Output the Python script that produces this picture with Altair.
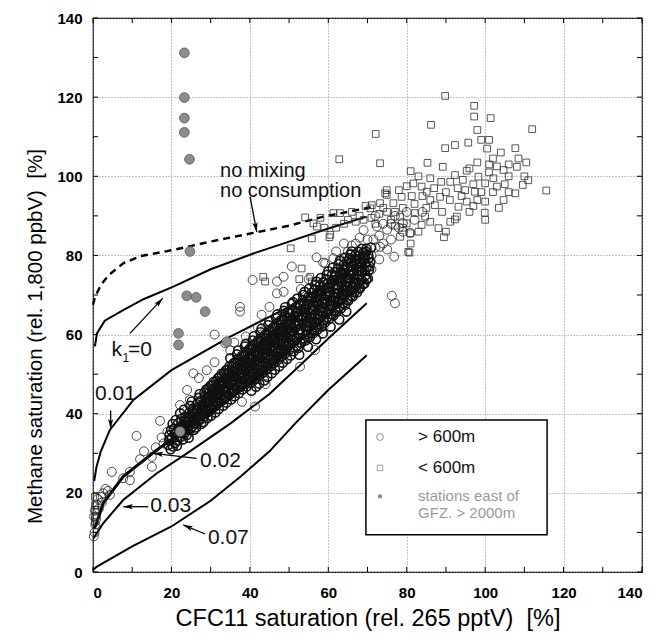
import math
import altair as alt
import pandas as pd

# ---------------- model curves ----------------
nomix_x = [0, 0.5, 2, 4, 7.7, 12, 20.5, 30, 40.9, 50, 58.7, 65, 71.5]
nomix_y = [67.5, 69.5, 72.5, 75, 78, 79.8, 81.4, 83.5, 85.7, 87.5, 89.8, 91, 92.3]
k0_x = [0.5, 1, 3, 7.7, 13, 20.5, 30, 40.9, 50, 60, 69.8]
k0_y = [57, 60.3, 63.5, 66.2, 69, 72.1, 76.5, 80.5, 83.5, 86.8, 89.8]
k001_x = [0.3, 0.9, 2, 4.3, 10.3, 20, 35, 50, 63, 70]
k001_y = [23, 26.6, 30.5, 35.9, 43.5, 51, 59.5, 67, 74.6, 78.5]
k002_x = [0.3, 0.9, 2.6, 7.7, 16.2, 24.7, 33.2, 42, 50, 60, 70]
k002_y = [11, 12.3, 17.4, 24.1, 30.8, 36.7, 42.5, 49, 56, 65, 74]
k003_x = [0.1, 2.6, 7.7, 16.2, 24.7, 35, 45, 52, 60, 69.8]
k003_y = [8.5, 12.3, 18.2, 24.9, 30.5, 37.5, 45, 51.5, 59, 67.9]
k007_x = [0, 0.9, 10, 20, 30, 37.5, 45, 52, 60, 69.8]
k007_y = [0.5, 1.3, 6.5, 11.5, 18, 24, 30.5, 38, 46, 54.8]

# ---------------- > 600m (open circles): dense band ----------------
core_pts = [
    [19.2, 32.1], [19.5, 34.6], [19.8, 31.0], [19.9, 35.8], [19.4, 33.3],
    [20.1, 33.9], [20.4, 31.7], [20.6, 36.2], [20.8, 34.8], [20.3, 37.4], [20.9, 32.6],
    [21.2, 35.1], [21.5, 33.2], [21.7, 37.6], [21.9, 35.9], [21.1, 38.4], [21.6, 34.3], [21.4, 31.9],
    [22.0, 36.3], [22.3, 34.1], [22.5, 38.7], [22.7, 36.9], [22.9, 33.5], [22.2, 40.1], [22.8, 35.4],
    [23.1, 37.2], [23.3, 35.0], [23.6, 39.3], [23.8, 37.8], [23.2, 41.0], [23.9, 34.6], [23.5, 36.4],
    [24.0, 38.1], [24.2, 35.8], [24.5, 40.2], [24.6, 37.1], [24.8, 42.0], [24.3, 39.0], [24.9, 36.2], [24.4, 33.9],
    [25.1, 39.2], [25.3, 36.8], [25.6, 41.3], [25.8, 38.4], [25.2, 43.1], [25.7, 35.9], [25.4, 40.5], [25.9, 37.5],
    [26.0, 40.2], [26.2, 37.6], [26.5, 42.4], [26.7, 39.1], [26.9, 44.0], [26.3, 36.5], [26.6, 41.0], [26.8, 38.3],
    [27.1, 41.1], [27.3, 38.5], [27.5, 43.3], [27.8, 40.2], [27.2, 45.0], [27.6, 37.4], [27.9, 42.1], [27.4, 39.7],
    [28.0, 42.0], [28.3, 39.3], [28.5, 44.4], [28.7, 41.2], [28.9, 46.1], [28.2, 37.9], [28.6, 43.0], [28.8, 40.1], [28.4, 45.3],
    [29.1, 42.9], [29.3, 40.4], [29.5, 45.2], [29.7, 42.1], [29.9, 47.0], [29.2, 38.9], [29.6, 44.0], [29.8, 41.0], [29.4, 46.4],
    [30.0, 43.6], [30.2, 41.0], [30.4, 46.0], [30.6, 43.0], [30.8, 48.1], [30.1, 39.5], [30.5, 44.8], [30.9, 41.8], [30.3, 47.2], [30.7, 45.6],
    [31.1, 44.5], [31.3, 42.0], [31.5, 47.1], [31.7, 44.0], [31.9, 49.0], [31.2, 40.3], [31.6, 45.9], [31.8, 42.9], [31.4, 48.2],
    [32.0, 45.4], [32.2, 42.8], [32.4, 48.0], [32.6, 44.7], [32.8, 50.1], [32.1, 41.2], [32.5, 46.9], [32.9, 43.6], [32.3, 49.3], [32.7, 47.8],
    [33.1, 46.2], [33.3, 43.6], [33.5, 48.9], [33.7, 45.5], [33.9, 51.0], [33.2, 42.0], [33.6, 47.7], [33.8, 44.3], [33.4, 50.2],
    [34.0, 47.0], [34.2, 44.4], [34.4, 49.8], [34.6, 46.3], [34.8, 52.0], [34.1, 42.8], [34.5, 48.5], [34.9, 45.1], [34.3, 51.1], [34.7, 50.4],
    [35.1, 47.9], [35.3, 45.2], [35.5, 50.6], [35.7, 47.2], [35.9, 52.8], [35.2, 43.6], [35.6, 49.4], [35.8, 46.0], [35.4, 52.0], [35.0, 54.0],
    [36.0, 48.8], [36.2, 46.0], [36.4, 51.5], [36.6, 48.0], [36.8, 53.7], [36.1, 44.4], [36.5, 50.3], [36.9, 46.9], [36.3, 52.9], [36.7, 55.0],
    [37.1, 49.6], [37.3, 46.9], [37.5, 52.4], [37.7, 48.9], [37.9, 54.6], [37.2, 45.2], [37.6, 51.2], [37.8, 47.6], [37.4, 53.7], [37.0, 56.0],
    [38.0, 50.5], [38.2, 47.7], [38.4, 53.2], [38.6, 49.7], [38.8, 55.5], [38.1, 46.1], [38.5, 52.1], [38.9, 48.5], [38.3, 54.6], [38.7, 57.0],
    [39.1, 51.3], [39.3, 48.6], [39.5, 54.1], [39.7, 50.6], [39.9, 56.4], [39.2, 46.9], [39.6, 52.9], [39.8, 49.4], [39.4, 55.5], [39.0, 57.7],
    [40.0, 52.2], [40.2, 49.4], [40.4, 55.0], [40.6, 51.4], [40.8, 57.3], [40.1, 47.7], [40.5, 53.8], [40.9, 50.3], [40.3, 56.4], [40.7, 58.5], [40.4, 45.8],
    [41.1, 53.0], [41.3, 50.3], [41.5, 55.9], [41.7, 52.3], [41.9, 58.2], [41.2, 48.6], [41.6, 54.7], [41.8, 51.1], [41.4, 57.3], [41.0, 59.6], [41.6, 46.8],
    [42.0, 53.9], [42.2, 51.1], [42.4, 56.7], [42.6, 53.1], [42.8, 59.1], [42.1, 49.4], [42.5, 55.5], [42.9, 52.0], [42.3, 58.2], [42.7, 60.6], [42.4, 47.6],
    [43.1, 54.7], [43.3, 52.0], [43.5, 57.6], [43.7, 54.0], [43.9, 60.0], [43.2, 50.3], [43.6, 56.4], [43.8, 52.8], [43.4, 59.1], [43.0, 61.5], [43.7, 48.4],
    [44.0, 55.6], [44.2, 52.8], [44.4, 58.5], [44.6, 54.8], [44.8, 60.9], [44.1, 51.1], [44.5, 57.3], [44.9, 53.7], [44.3, 60.0], [44.7, 62.4], [44.5, 49.3],
    [45.1, 56.4], [45.3, 53.7], [45.5, 59.3], [45.7, 55.7], [45.9, 61.8], [45.2, 52.0], [45.6, 58.1], [45.8, 54.5], [45.4, 60.8], [45.0, 63.3], [45.6, 50.2],
    [46.0, 57.3], [46.2, 54.5], [46.4, 60.2], [46.6, 56.5], [46.8, 62.7], [46.1, 52.8], [46.5, 59.0], [46.9, 55.4], [46.3, 61.7], [46.7, 64.2], [46.4, 51.1],
    [47.1, 58.1], [47.3, 55.4], [47.5, 61.0], [47.7, 57.4], [47.9, 63.6], [47.2, 53.7], [47.6, 59.9], [47.8, 56.2], [47.4, 62.6], [47.0, 65.1], [47.5, 52.0],
    [48.0, 59.0], [48.2, 56.2], [48.4, 61.9], [48.6, 58.2], [48.8, 64.5], [48.1, 54.5], [48.5, 60.7], [48.9, 57.1], [48.3, 63.5], [48.7, 66.0], [48.4, 52.9],
    [49.1, 59.8], [49.3, 57.1], [49.5, 62.7], [49.7, 59.1], [49.9, 65.4], [49.2, 55.4], [49.6, 61.6], [49.8, 57.9], [49.4, 64.4], [49.0, 66.9], [49.5, 53.8],
    [50.0, 60.7], [50.2, 57.9], [50.4, 63.6], [50.6, 59.9], [50.8, 66.3], [50.1, 56.2], [50.5, 62.5], [50.9, 58.8], [50.3, 65.3], [50.7, 67.8], [50.4, 54.7],
    [51.2, 55.8], [51.5, 58.4], [51.1, 60.9], [51.8, 62.3], [51.4, 64.7], [51.7, 66.9], [51.3, 59.6], [51.9, 57.2], [51.6, 63.5], [51.0, 68.2],
    [52.3, 56.6], [52.0, 59.1], [52.6, 61.2], [52.9, 63.9], [52.2, 65.8], [52.7, 67.6], [52.4, 60.3], [52.8, 58.0], [52.5, 62.8], [52.1, 69.1], [52.6, 54.9],
    [53.1, 57.9], [53.4, 60.2], [53.7, 62.6], [53.2, 64.4], [53.9, 66.5], [53.5, 68.7], [53.0, 61.3], [53.8, 59.0], [53.3, 63.7], [53.6, 70.0],
    [54.2, 58.5], [54.5, 61.0], [54.8, 63.4], [54.1, 65.6], [54.6, 67.7], [54.9, 69.5], [54.3, 62.1], [54.7, 60.1], [54.4, 64.5], [54.0, 70.8], [54.8, 56.9],
    [55.3, 59.4], [55.0, 62.0], [55.6, 64.3], [55.9, 66.2], [55.2, 68.4], [55.7, 70.5], [55.4, 63.1], [55.8, 61.0], [55.5, 65.4], [55.1, 71.6],
    [56.1, 60.3], [56.4, 62.8], [56.7, 65.1], [56.2, 67.3], [56.9, 69.2], [56.5, 71.3], [56.0, 64.0], [56.8, 61.9], [56.3, 66.3], [56.6, 72.5], [56.9, 58.8],
    [57.2, 61.2], [57.5, 63.8], [57.8, 66.0], [57.1, 68.1], [57.6, 70.1], [57.9, 72.4], [57.3, 64.9], [57.7, 62.7], [57.4, 67.2], [57.0, 73.4],
    [58.3, 62.0], [58.0, 64.6], [58.6, 66.9], [58.9, 69.0], [58.2, 71.1], [58.7, 73.2], [58.4, 65.7], [58.8, 63.6], [58.5, 68.1], [58.1, 74.3], [58.6, 60.3],
    [59.1, 63.0], [59.4, 65.4], [59.7, 67.8], [59.2, 69.9], [59.9, 71.9], [59.5, 74.0], [59.0, 66.6], [59.8, 64.4], [59.3, 68.9], [59.6, 75.1],
    [60.2, 63.9], [60.5, 66.3], [60.8, 68.6], [60.1, 70.8], [60.6, 72.8], [60.9, 75.0], [60.3, 67.5], [60.7, 65.2], [60.4, 69.7], [60.0, 76.0], [60.6, 62.0],
    [61.3, 64.8], [61.0, 67.2], [61.6, 69.5], [61.9, 71.6], [61.2, 73.7], [61.7, 75.8], [61.4, 68.4], [61.8, 66.1], [61.5, 70.6], [61.1, 76.9],
    [62.1, 65.7], [62.4, 68.1], [62.7, 70.4], [62.2, 72.5], [62.9, 74.6], [62.5, 76.7], [62.0, 69.3], [62.8, 67.0], [62.3, 71.5], [62.6, 77.8], [62.8, 63.8],
    [63.2, 66.6], [63.5, 69.0], [63.8, 71.3], [63.1, 73.4], [63.6, 75.5], [63.9, 77.6], [63.3, 70.2], [63.7, 67.9], [63.4, 72.4], [63.0, 78.6],
    [64.3, 67.5], [64.0, 69.9], [64.6, 72.2], [64.9, 74.3], [64.2, 76.4], [64.7, 78.5], [64.4, 71.1], [64.8, 68.8], [64.5, 73.3], [64.1, 79.4], [64.6, 65.8],
    [65.1, 68.6], [65.4, 70.8], [65.7, 73.1], [65.2, 75.2], [65.9, 77.3], [65.5, 79.3], [65.0, 72.0], [65.8, 69.8], [65.3, 74.2], [65.6, 80.2],
    [66.2, 69.6], [66.5, 71.8], [66.8, 74.0], [66.1, 76.1], [66.6, 78.2], [66.9, 80.1], [66.3, 73.0], [66.7, 70.7], [66.4, 75.1], [66.0, 81.0],
    [67.3, 70.6], [67.0, 72.8], [67.6, 75.0], [67.9, 77.0], [67.2, 79.1], [67.7, 80.9], [67.4, 74.0], [67.8, 71.7], [67.5, 76.1],
    [68.1, 71.7], [68.4, 73.9], [68.7, 76.0], [68.2, 78.0], [68.9, 80.0], [68.5, 81.7], [68.0, 75.0], [68.8, 72.8], [68.3, 77.1],
    [69.2, 72.9], [69.5, 75.0], [69.8, 77.1], [69.1, 79.0], [69.6, 81.0], [69.3, 76.1], [69.7, 73.9], [69.4, 78.1],
    [70.1, 74.2], [70.4, 76.3], [70.7, 78.3], [70.2, 80.2], [70.9, 82.0], [70.5, 77.2], [70.3, 79.3],
]

# extra points filling the middle of the band
core_fill = [
    [22.6, 36.0], [23.4, 38.2], [24.1, 36.6], [24.7, 38.8], [25.5, 39.8], [26.1, 38.9], [26.4, 40.9],
    [27.0, 39.6], [27.7, 41.7], [28.1, 40.6], [28.8, 42.7], [29.0, 44.1], [29.6, 43.1], [30.2, 44.9],
    [30.6, 42.1], [31.0, 46.2], [31.6, 44.8], [32.1, 47.2], [32.5, 45.3], [33.0, 47.7], [33.4, 46.1],
    [33.9, 48.8], [34.3, 47.6], [34.8, 49.2], [35.2, 48.3], [35.6, 50.8], [36.0, 49.6], [36.4, 47.3],
    [36.9, 51.1], [37.3, 50.0], [37.7, 52.6], [38.1, 51.4], [38.5, 49.0], [38.9, 53.0], [39.3, 51.7],
    [39.7, 54.0], [40.1, 52.8], [40.5, 50.6], [40.9, 54.8], [41.3, 53.3], [41.7, 56.0], [42.1, 55.0],
    [42.5, 52.3], [42.9, 56.5], [43.3, 55.2], [43.7, 57.9], [44.1, 56.8], [44.5, 54.1], [44.9, 58.6],
    [45.3, 57.1], [45.7, 59.8], [46.1, 58.9], [46.5, 55.9], [46.9, 60.4], [47.3, 59.1], [47.7, 61.6],
    [48.1, 60.7], [48.5, 57.8], [48.9, 62.2], [49.3, 61.0], [49.7, 63.5], [50.1, 62.6], [50.5, 59.5],
    [50.9, 64.0], [51.3, 62.9], [51.7, 65.4], [52.1, 64.5], [52.5, 61.3], [52.9, 65.9], [53.3, 64.8],
    [53.7, 67.3], [54.1, 66.3], [54.5, 63.1], [54.9, 67.8], [55.3, 66.6], [55.7, 69.1], [56.1, 68.1],
    [56.5, 64.9], [56.9, 69.6], [57.3, 68.5], [57.7, 71.0], [58.1, 70.0], [58.5, 66.8], [58.9, 71.4],
    [59.3, 70.4], [59.7, 72.8], [60.1, 71.9], [60.5, 68.6], [60.9, 73.2], [61.3, 72.2], [61.7, 74.6],
    [62.1, 73.8], [62.5, 70.5], [62.9, 75.1], [63.3, 74.0], [63.7, 76.4], [64.1, 75.6], [64.5, 72.4],
    [64.9, 76.9], [65.3, 75.9], [65.7, 78.2], [66.1, 77.4], [66.5, 74.3], [66.9, 78.7], [67.3, 77.7],
    [67.7, 79.8], [68.1, 79.1], [68.5, 76.2], [68.9, 80.6], [69.3, 79.6], [69.7, 81.7],
]

# ---------------- > 600m (open circles): scattered ----------------
sparse_x = [0.3, 0.5, 0.8, 1, 1.2, 0.4, 0.6, 1.5, 2, 2.6, 3.2, 4.3, 4.8, 2.2, 0.2, 3.8,
            7.7, 9.4, 9.4, 11.1, 17.1, 15, 15, 13, 12, 16, 18, 19, 17.5, 19.8, 25.6, 27,
            29, 24, 22.2, 24.7, 31, 33.7, 35, 31, 37.5, 37.5, 40.7, 46.9, 48.6, 50.7, 46.9,
            48.6, 59.2, 61.3, 56.6, 52.8, 41.3, 44, 38, 58.7, 57, 62, 64, 55, 53, 43, 45,
            42, 39, 36, 71, 71.5, 72, 72.4, 73, 73.2, 74, 75, 76, 76.8, 76.2, 77, 78, 79,
            69, 71, 73, 75, 80.9, 77, 72, 67, 65, 70, 68, 74, 76, 79, 82, 84, 80, 66, 63]
sparse_y = [14, 15.5, 13.5, 17, 18.5, 10, 12, 16, 19, 19.9, 21, 19.5, 25.3, 17.5, 9, 20.5,
            23.7, 23.2, 25.3, 34.4, 38.2, 26.6, 29.1, 30.5, 28.5, 31.5, 32.5, 35.5, 34, 33.5,
            50.2, 49, 51, 46, 42.2, 43.5, 53, 57.8, 56, 60, 67, 65.8, 73.8, 73.4, 74.6, 77.2,
            70.4, 70.8, 78, 79.3, 56.1, 51.9, 41.8, 47.5, 43, 78.2, 79.5, 81, 83, 74, 71.5,
            65, 67, 62, 59.5, 58, 80, 84, 82, 87.3, 85, 82.2, 88, 86.5, 84, 79.7, 69.8,
            67.9, 87, 88.2, 86.4, 76.5, 79, 81.5, 85.7, 90, 90, 83, 81, 84, 84.5, 83, 88,
            86, 89, 91, 91, 82.5, 79]

# ---------------- < 600m (open squares) ----------------
sq_x = [89.8, 97.2, 97.2, 101.4, 86.2, 98, 112, 72.1, 99, 101, 89.8, 92.3, 95.7, 100.5, 102,
        107.7, 108.5, 73.2, 85.3, 89.2, 95.3, 81, 115.6, 99.9, 89.5, 92.3, 80.7, 88.1, 81.7,
        74.9, 81.3, 88.8, 91.1, 92.3, 98.3, 100, 102.1, 104.7, 108.1, 109.6, 107.7, 104.7,
        103, 100, 95.3, 93.2, 92.8, 91.1, 88.5, 87.2, 85.1, 83.8, 84.7, 83.8, 80.4, 80, 78.3,
        76.6, 78.7, 74.5, 73.2, 70.7, 82.1, 80.9, 78.3, 94.9, 97.4, 94.3, 62.8, 74.9, 54.1,
        61.3, 63, 57.1, 60.3, 55.8, 50.4, 43.4, 43.9, 52.6, 55.4, 71.1, 56.2, 60.5, 53.2,
        55.8, 0.5, 0.5, 0.5, 0.5, 0.5, 96, 98, 101, 103, 106, 105, 99, 97, 93, 90, 87, 86,
        84, 82, 79, 77, 75, 73, 71, 69, 67, 65, 66, 68, 64, 62, 59, 58, 110, 106, 102, 101,
        103.5, 98, 96, 94, 91, 89, 86, 85, 83, 80, 78, 76, 81, 83, 86, 90, 110.5, 111, 104,
        106, 79, 77, 74, 72, 69.5, 100, 97]
sq_y = [120.3, 117.8, 115.1, 114.7, 113, 111.7, 111.9, 110.7, 109.2, 109.2, 107.1, 107.9,
        108.5, 107, 104.5, 107.1, 104.5, 103.3, 103.4, 102.4, 101.4, 101.3, 96.4, 90.8, 84.6,
        89.1, 80.7, 86.9, 98.2, 96.5, 95, 98.6, 98.6, 100.3, 99.9, 98.2, 99.5, 101.6, 102.4,
        97.8, 95.7, 94, 97.4, 93.6, 93.6, 92.3, 89.8, 88.5, 94.8, 92.7, 96.1, 97.4, 89.8,
        87.7, 80.9, 88.1, 89.8, 93.2, 94.8, 95.7, 93.2, 91.9, 90.7, 85.6, 84.7, 96.5, 96.1,
        99.1, 104.3, 95.3, 89.6, 90.7, 90.7, 87.3, 84.6, 84.3, 81.8, 74.6, 73.4, 74, 74.6,
        92.7, 88.1, 85.2, 76.7, 73.4, 19, 16.9, 15.7, 14, 12.7, 102, 103.5, 101, 102.5, 100,
        98, 96, 98, 97, 96, 97, 99.5, 95, 93, 92, 91, 91, 90.5, 89.5, 89, 88.5, 89, 91, 90,
        88, 87, 87, 89.5, 100, 96, 96, 103, 92, 94, 91, 95, 94, 91, 94, 92, 100, 97.5, 96.5,
        89, 83, 86, 88.5, 86, 103.5, 99, 106, 103, 87, 87.5, 92, 88, 92.5, 89, 92.5]

# ---------------- stations east of GFZ > 2000m (grey dots) ----------------
gfz_x = [23.3, 23.3, 23.3, 23.3, 24.6, 24.7, 23.9, 26.3, 28.6, 21.8, 21.8, 34.1, 22.2]
gfz_y = [131.2, 119.9, 114.7, 111.1, 104.3, 81, 69.8, 69.4, 65.8, 60.3, 57.4, 58.2, 35.5]

# ---------------- annotations ----------------
arrow_x0 = [40.05, 9.44, 4.5, 26.4, 14.1, 28.6]
arrow_y0 = [94.85, 60.3, 40.8, 28.7, 16.5, 9.6]
arrow_x1 = [41.76, 17.8, 4.5, 15.4, 7.7, 23.0]
arrow_y1 = [85.9, 69.2, 36.2, 30.0, 16.5, 11.9]

label_text = ["no mixing", "no consumption", "k", "1", "=0", "0.01", "0.02", "0.03", "0.07"]
label_x = [32.4, 32.4, 4.7, 7.5, 8.9, 0.5, 27.3, 14.6, 29.3]
label_y = [101.3, 96.3, 56.1, 54.0, 56.1, 45.0, 28.0, 16.6, 8.6]
label_size = [20, 20, 21, 12, 21, 21, 21, 21, 21]

legend_box = [69.6, 115.8, 9.4, 38.4]
legend_text = ["> 600m", "< 600m", "stations east of", "GFZ. > 2000m"]
legend_tx = [82.9, 82.9, 82.9, 82.9]
legend_ty = [34.1, 26.3, 19.3, 14.9]
legend_tcol = ["#111111", "#111111", "#9a9a9a", "#9a9a9a"]
legend_tsize = [17, 17, 15, 15]
legend_sym_x = [73.2, 73.2, 73.2]
legend_sym_y = [34.1, 26.3, 19.1]

tick_vals = list(range(0, 141, 10))
axis_vals = list(range(0, 141, 20))
tick_len = 1.3  # in data units (about 5 px)

# ---------------- build tables ----------------
W, H = 549, 554
FONT = "Liberation Sans"
xs = alt.Scale(domain=[0, 140], nice=False, zero=False)
ys = alt.Scale(domain=[0, 140], nice=False, zero=False)
kx, ky = W / 140.0, H / 140.0

AX = alt.Axis(values=axis_vals, title="CFC11 saturation (rel. 265 pptV)\u00a0 [%]", grid=True,
              ticks=False, domain=False, labelPadding=13, titlePadding=6, labelFontSize=15,
              labelFontWeight="bold", titleFontSize=23.5, titleFontWeight="normal")
AY = alt.Axis(values=axis_vals, title="Methane saturation (rel. 1,800 ppbV)\u00a0 [%]", grid=True,
              ticks=False, domain=False, labelPadding=11, labelFontSize=15,
              labelFontWeight="bold", titleFontSize=20.5, titleFontWeight="normal",
              titleX=-58, titleY=318, titleAngle=270, titleAlign="center", titleBaseline="middle")


def X(f="x"):
    return alt.X(f + ":Q", scale=xs, axis=AX)


def Y(f="y"):
    return alt.Y(f + ":Q", scale=ys, axis=AY)


def curve_df(name, xv, yv):
    return pd.DataFrame({"x": xv, "y": yv, "curve": name, "i": list(range(len(xv)))})


thin_df = pd.concat([curve_df("k0", k0_x, k0_y), curve_df("k001", k001_x, k001_y),
                     curve_df("k003", k003_x, k003_y), curve_df("k007", k007_x, k007_y)])
thick_df = curve_df("k002", k002_x, k002_y)
dash_df = curve_df("nomix", nomix_x, nomix_y)

allcore = core_pts + core_fill
core_df = pd.DataFrame({"x": [p[0] for p in allcore], "y": [p[1] for p in allcore]})
sparse_df = pd.DataFrame({"x": sparse_x, "y": sparse_y})
sq_df = pd.DataFrame({"x": sq_x, "y": sq_y})
gfz_df = pd.DataFrame({"x": gfz_x, "y": gfz_y})

angles = []
for a, b, c, d in zip(arrow_x0, arrow_y0, arrow_x1, arrow_y1):
    angles.append(math.degrees(math.atan2((c - a) * kx, (d - b) * ky)) % 360)
arr_df = pd.DataFrame({"x": arrow_x0, "y": arrow_y0, "x2": arrow_x1, "y2": arrow_y1, "ang": angles})

lab_df = pd.DataFrame({"x": label_x, "y": label_y, "t": label_text, "s": label_size})
box_df = pd.DataFrame({"x": [legend_box[0]], "x2": [legend_box[1]],
                       "y": [legend_box[2]], "y2": [legend_box[3]]})
ltext_df = pd.DataFrame({"x": legend_tx, "y": legend_ty, "t": legend_text,
                         "c": legend_tcol, "s": legend_tsize})
lsym_df = pd.DataFrame({"x": legend_sym_x, "y": legend_sym_y})

# inward frame ticks (all four sides), expressed in data units
tk_x = tick_vals + tick_vals + [0] * len(tick_vals) + [140] * len(tick_vals)
tk_x2 = tick_vals + tick_vals + [tick_len] * len(tick_vals) + [140 - tick_len] * len(tick_vals)
tk_y = [0] * len(tick_vals) + [140] * len(tick_vals) + tick_vals + tick_vals
tk_y2 = [tick_len] * len(tick_vals) + [140 - tick_len] * len(tick_vals) + tick_vals + tick_vals
tick_df = pd.DataFrame({"x": tk_x, "x2": tk_x2, "y": tk_y, "y2": tk_y2})

thin = alt.Chart(thin_df).mark_line(color="black", strokeWidth=2).encode(
    x=X(), y=Y(), detail="curve:N", order="i:Q")
thick = alt.Chart(thick_df).mark_line(color="black", strokeWidth=3).encode(x=X(), y=Y(), order="i:Q")
dashed = alt.Chart(dash_df).mark_line(color="black", strokeWidth=2.4, strokeDash=[7, 5]).encode(
    x=X(), y=Y(), order="i:Q")

core = alt.Chart(core_df).mark_point(shape="circle", filled=False, color="#111111",
                                     strokeWidth=1.6, size=80, opacity=1).encode(x=X(), y=Y())
sparse = alt.Chart(sparse_df).mark_point(shape="circle", filled=False, color="#222222",
                                         strokeWidth=0.9, size=80, opacity=0.9).encode(x=X(), y=Y())
squares = alt.Chart(sq_df).mark_point(shape="square", filled=False, color="#333333",
                                      strokeWidth=0.9, size=45, opacity=0.9).encode(x=X(), y=Y())
gfz = alt.Chart(gfz_df).mark_point(shape="circle", filled=True, fill="#8c8c8c", stroke="#555555",
                                   strokeWidth=0.8, size=95, opacity=1).encode(x=X(), y=Y())

shafts = alt.Chart(arr_df).mark_rule(color="black", strokeWidth=1.3).encode(
    x=X(), y=Y(), x2="x2:Q", y2="y2:Q")
heads = alt.Chart(arr_df).mark_point(shape="M0,0L0.38,1.4L0,1.1L-0.38,1.4Z", filled=True,
                                     color="black", size=190, opacity=1).encode(
    x=X("x2"), y=Y("y2"), angle=alt.Angle("ang:Q", scale=None))

labels = alt.Chart(lab_df).mark_text(align="left", baseline="middle", font=FONT,
                                     color="#111111").encode(
    x=X(), y=Y(), text="t:N", size=alt.Size("s:Q", scale=None))

box = alt.Chart(box_df).mark_rect(fill="white", stroke="black", strokeWidth=1.5).encode(
    x=X(), x2="x2:Q", y=Y(), y2="y2:Q")
lt = alt.Chart(ltext_df).mark_text(align="left", baseline="middle", font=FONT).encode(
    x=X(), y=Y(), text="t:N", size=alt.Size("s:Q", scale=None), color=alt.Color("c:N", scale=None))
ls1 = alt.Chart(lsym_df.iloc[[0]]).mark_point(shape="circle", filled=False, color="#555555",
                                               size=45, strokeWidth=0.9).encode(x=X(), y=Y())
ls2 = alt.Chart(lsym_df.iloc[[1]]).mark_point(shape="square", filled=False, color="#666666",
                                               size=30, strokeWidth=0.9).encode(x=X(), y=Y())
ls3 = alt.Chart(lsym_df.iloc[[2]]).mark_point(shape="circle", filled=True, color="#888888",
                                               size=18, opacity=1).encode(x=X(), y=Y())

ticks = alt.Chart(tick_df).mark_rule(color="black", strokeWidth=1).encode(
    x=X(), y=Y(), x2="x2:Q", y2="y2:Q")

chart = alt.layer(
    thin, thick, dashed, squares, sparse, core, gfz, shafts, heads, labels,
    box, lt, ls1, ls2, ls3, ticks
).properties(
    width=W, height=H,
    padding={"left": 85, "top": 10, "right": 21, "bottom": 60},
    autosize=alt.AutoSizeParams(type="none"),
    background="white",
).configure_axis(
    labelFont=FONT, titleFont=FONT, labelColor="black", titleColor="black",
    gridColor="#8a8a8a", gridDash=[1, 2], gridWidth=1, gridOpacity=1,
).configure_view(stroke="black", strokeWidth=1.2)

chart.save("out.html", embed_options={"renderer": "svg", "actions": False})
